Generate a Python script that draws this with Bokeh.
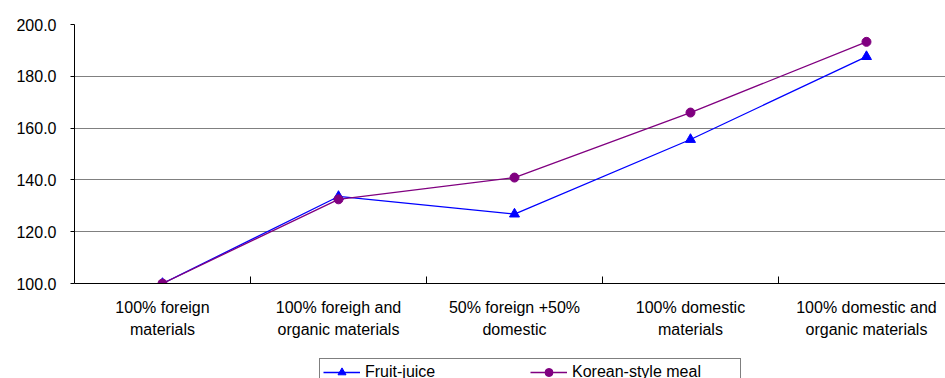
from bokeh.plotting import figure
from bokeh.layouts import column
from bokeh.models import FixedTicker, Legend, LegendItem, NumeralTickFormatter, Range1d
from bokeh.embed import file_html
from bokeh.resources import INLINE

categories = [
    "100% foreign\nmaterials",
    "100% foreigh and\norganic materials",
    "50% foreign +50%\ndomestic",
    "100% domestic\nmaterials",
    "100% domestic and\norganic materials",
]
fruit_juice = [100.0, 133.6, 126.8, 155.6, 187.6]
korean_meal = [100.0, 132.5, 140.9, 166.0, 193.3]
y_ticks = [100, 120, 140, 160, 180, 200]
series_names = ["Fruit-juice", "Korean-style meal"]

xs = list(range(len(categories)))
FONT = "Liberation Sans"
BLUE = "#0000FF"
PURPLE = "#800080"

p = figure(width=945, height=358, output_backend="svg", toolbar_location=None,
           x_range=Range1d(-0.5, 4.449), y_range=Range1d(100, 200),
           min_border_left=74, min_border_right=0, min_border_top=24, min_border_bottom=75)
p.outline_line_color = None
p.background_fill_color = "white"
p.border_fill_color = "white"

# x axis
p.xaxis.ticker = FixedTicker(ticks=xs, minor_ticks=[i + 0.5 for i in xs[:-1]])
p.xaxis.major_label_overrides = {i: c for i, c in enumerate(categories)}
p.xaxis.major_tick_in = 0
p.xaxis.major_tick_out = 0
p.xaxis.minor_tick_in = 7
p.xaxis.minor_tick_out = 0
p.xaxis.minor_tick_line_color = "black"
p.xaxis.axis_line_color = "black"
p.xaxis.major_label_text_font = FONT
p.xaxis.major_label_text_font_size = "16px"
p.xaxis.major_label_text_color = "black"
p.xaxis.major_label_standoff = 15
p.xaxis.major_label_text_align = "center"
p.xaxis.major_label_text_line_height = 1.3
p.xgrid.grid_line_color = None

# y axis
p.yaxis.ticker = FixedTicker(ticks=y_ticks)
p.yaxis.formatter = NumeralTickFormatter(format="0.0")
p.yaxis.major_tick_in = 0
p.yaxis.major_tick_out = 4
p.yaxis.minor_tick_line_color = None
p.yaxis.axis_line_color = "black"
p.yaxis.major_tick_line_color = "black"
p.yaxis.major_label_text_font = FONT
p.yaxis.major_label_text_font_size = "16px"
p.yaxis.major_label_text_color = "black"
p.yaxis.major_label_standoff = 14
p.ygrid.grid_line_color = "#808080"
p.ygrid.grid_line_width = 1

p.line(xs, fruit_juice, line_color=BLUE, line_width=1.3)
p.scatter(xs, fruit_juice, marker="triangle", size=10, fill_color=BLUE, line_color=BLUE)
p.line(xs, korean_meal, line_color=PURPLE, line_width=1.3)
p.scatter(xs, korean_meal, marker="circle", size=9, fill_color=PURPLE, line_color=PURPLE)

# legend strip (same series, drawn out of view; only the legend shows)
q = figure(width=945, height=20, output_backend="svg", toolbar_location=None,
           x_range=Range1d(-2, -1), y_range=Range1d(0, 1),
           x_axis_location=None, y_axis_location=None,
           min_border_left=0, min_border_right=0, min_border_top=0, min_border_bottom=0)
q.grid.visible = False
q.outline_line_color = None
q.border_fill_color = "white"
q.background_fill_color = "white"
ql1 = q.line(xs, fruit_juice, line_color=BLUE, line_width=1.3)
qm1 = q.scatter(xs, fruit_juice, marker="triangle", size=10, fill_color=BLUE, line_color=BLUE)
ql2 = q.line(xs, korean_meal, line_color=PURPLE, line_width=1.3)
qm2 = q.scatter(xs, korean_meal, marker="circle", size=9, fill_color=PURPLE, line_color=PURPLE)

legend = Legend(items=[LegendItem(label=series_names[0], renderers=[ql1, qm1], index=0),
                       LegendItem(label=series_names[1], renderers=[ql2, qm2], index=0)],
                orientation="horizontal", location=(245, -8))
legend.label_text_font = FONT
legend.label_text_font_size = "16px"
legend.label_text_color = "black"
legend.glyph_width = 37
legend.glyph_height = 20
legend.label_height = 20
legend.label_width = 165
legend.label_standoff = 5
legend.spacing = 0
legend.padding = 3
legend.margin = 0
legend.border_line_color = "black"
legend.border_line_width = 1
legend.background_fill_alpha = 1
q.add_layout(legend, "center")

layout = column(p, q, spacing=0)
open("out.html", "w").write(file_html(layout, INLINE))
